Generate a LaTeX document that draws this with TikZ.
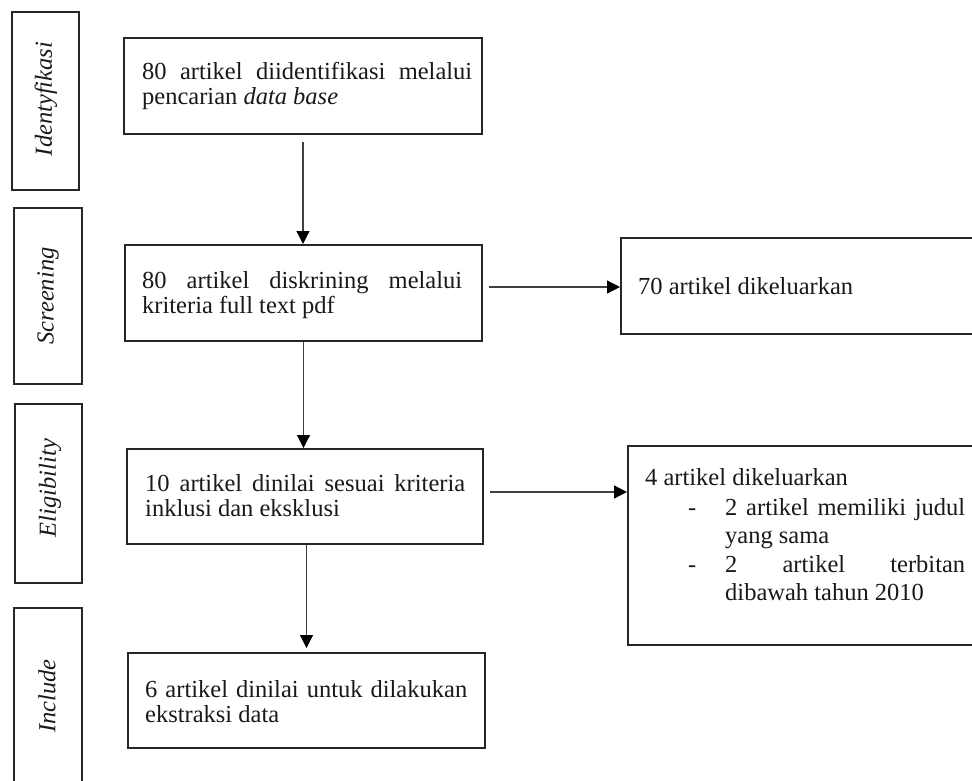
\documentclass[tikz,border=0pt]{standalone}
\usepackage{fontspec}
\setmainfont{Liberation Serif}
\usetikzlibrary{arrows.meta}
\begin{document}
\begin{tikzpicture}[x=1pt,y=-1pt,
  stagebox/.style={draw=black!85, line width=2pt, anchor=north west, inner sep=0pt},
  mainbox/.style={draw=black!85, line width=2pt, anchor=north west, inner sep=0pt},
  txt/.style={anchor=base west, inner sep=0pt, text=black!90, font=\fontsize{24.5}{24}\selectfont},
  stagetxt/.style={rotate=90, inner sep=0pt, text=black!90, font=\fontsize{24.5}{24}\selectfont\itshape},
  arr/.style={line width=1.2pt, draw=black!75, -{Triangle[width=13pt,length=13pt,color=black]}}]
\clip (0,0) rectangle (972,780);
% stage boxes
\node[stagebox, minimum width=67pt, minimum height=178pt] (s1) at (11,11) {};
\node[stagebox, minimum width=68pt, minimum height=176pt] (s2) at (13,207) {};
\node[stagebox, minimum width=67pt, minimum height=179pt] (s3) at (14,403) {};
\node[stagebox, minimum width=68pt, minimum height=180pt] (s4) at (13,607) {};
\node[stagetxt] (l1) at (46,99) {Identyfikasi};
\node[stagetxt] (l2) at (48,296) {Screening};
\node[stagetxt] (l3) at (50,488) {Eligibility};
\node[stagetxt] (l4) at (47,696) {Include};
% main boxes
\node[mainbox, minimum width=358pt, minimum height=96pt] (b1) at (123,37) {};
\node[mainbox, minimum width=357pt, minimum height=96pt] (b2) at (124,244) {};
\node[mainbox, minimum width=356pt, minimum height=95pt] (b3) at (126,448) {};
\node[mainbox, minimum width=357pt, minimum height=95pt] (b4) at (127,652) {};
\node[txt] (t1a) at (142,79) {\makebox[330pt][s]{80 artikel diidentifikasi melalui}};
\node[txt] (t1b) at (142,104) {pencarian \textit{data base}};
\node[txt] (t2a) at (142,288) {\makebox[320pt][s]{80 artikel diskrining melalui}};
\node[txt] (t2b) at (142,313) {kriteria full text pdf};
\node[txt] (t3a) at (145,491) {\makebox[320pt][s]{10 artikel dinilai sesuai kriteria}};
\node[txt] (t3b) at (145,516) {inklusi dan eksklusi};
\node[txt] (t4a) at (145,697) {\makebox[322pt][s]{6 artikel dinilai untuk dilakukan}};
\node[txt] (t4b) at (145,722) {ekstraksi data};
% right boxes
\node[mainbox, minimum width=370pt, minimum height=96pt] (r1) at (620,237) {};
\node[mainbox, minimum width=363pt, minimum height=199pt] (r2) at (627,445) {};
\node[txt] (u1) at (638,294) {70 artikel dikeluarkan};
\node[txt] (u2) at (645,485) {4 artikel dikeluarkan};
\node[txt] (d1) at (688,515) {-};
\node[txt] (u3) at (725,515) {\makebox[240pt][s]{2 artikel memiliki judul}};
\node[txt] (u4) at (725,543) {yang sama};
\node[txt] (d2) at (688,572) {-};
\node[txt] (u5) at (725,572) {\makebox[240pt][s]{2 artikel terbitan}};
\node[txt] (u6) at (725,600) {dibawah tahun 2010};
% connectors
\draw[arr, shorten <=7pt] (b1.south) -- (b1.south |- b2.north);
\draw[arr] (b2.south) -- (b2.south |- b3.north);
\draw[arr, shorten >=4pt] (b3.south -| b4.north) -- (b4.north);
\draw[arr, shorten <=6pt] (b2.east |- 0,287) -- (r1.west |- 0,287);
\draw[arr, shorten <=6pt] (b3.east |- 0,492) -- (r2.west |- 0,492);
\end{tikzpicture}
\end{document}
